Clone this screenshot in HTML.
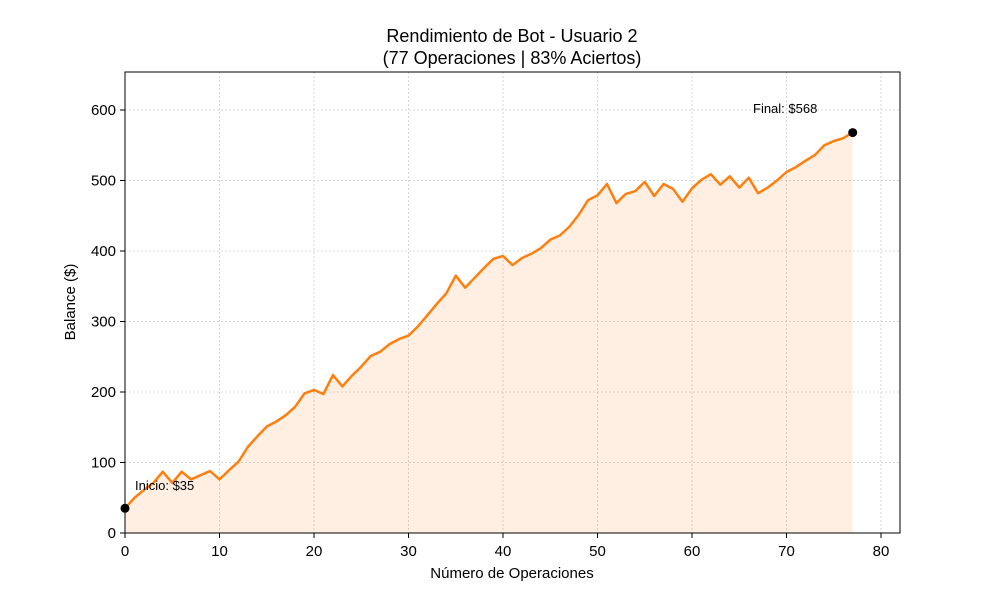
<!DOCTYPE html>
<html><head><meta charset="utf-8"><style>
html,body{margin:0;padding:0;background:#fff;}
svg{display:block;font-family:"Liberation Sans",sans-serif;}
</style></head><body>
<svg id="s" width="1000" height="600" viewBox="0 0 1000 600" xmlns="http://www.w3.org/2000/svg">
<rect width="1000" height="600" fill="#fff"/>
<g id="grid" stroke="#cccccc" stroke-width="0.8" stroke-dasharray="2,2"></g>
<path id="area" fill="#ff7f0e" fill-opacity="0.12"/>
<polyline id="line" fill="none" stroke="#ff7f0e" stroke-width="2.5" stroke-linejoin="round"/>
<rect x="125" y="72" width="775" height="461" fill="none" stroke="#000" stroke-width="1"/>
<g id="ticks" stroke="#000" stroke-width="1"></g>
<g id="labels" font-size="15" fill="#000"></g>
<circle cx="125" cy="508.3" r="4.5" fill="#000"/>
<circle cx="852.7" cy="132.6" r="4.5" fill="#000"/>
<text x="135" y="490" font-size="13" fill="#000">Inicio: $35</text>
<text x="753" y="113" font-size="13" fill="#000">Final: $568</text>
<text x="512" y="42" font-size="18" text-anchor="middle">Rendimiento de Bot - Usuario 2</text>
<text x="512" y="64" font-size="18" text-anchor="middle">(77 Operaciones | 83% Aciertos)</text>
<text x="512" y="578" font-size="15" text-anchor="middle">Número de Operaciones</text>
<text x="75" y="302" font-size="15" text-anchor="middle" transform="rotate(-90 75 302)">Balance ($)</text>
</svg>
<script>
var d=[35,50,61,71,87,71,87,76,82,88,76,89,101,122,137,151,158,167,179,198,203,197,224,208,223,236,251,257,268,275,280,293,309,325,340,365,348,362,376,389,393,380,390,396,404,416,422,434,451,472,479,495,468,481,485,498,478,495,488,470,489,501,509,494,506,490,504,482,490,500,512,519,528,536,550,556,560,568];
function X(i){return 125+i*9.45;}function Y(v){return 533-v*0.705;}
var pts=d.map(function(v,i){return X(i).toFixed(1)+","+Y(v).toFixed(1);});
document.getElementById('line').setAttribute('points',pts.join(' '));
document.getElementById('area').setAttribute('d','M125,533 L'+pts.join(' L')+' L'+X(77).toFixed(1)+',533 Z');
var ns='http://www.w3.org/2000/svg',g=document.getElementById('grid'),t=document.getElementById('ticks'),l=document.getElementById('labels');
function el(p,n,a,tx){var e=document.createElementNS(ns,n);for(var k in a)e.setAttribute(k,a[k]);if(tx!=null)e.textContent=tx;p.appendChild(e);}
for(var i=0;i<=80;i+=10){var x=X(i);el(g,'line',{x1:x,x2:x,y1:72,y2:533});el(t,'line',{x1:x,x2:x,y1:533,y2:538});el(l,'text',{x:x,y:556,'text-anchor':'middle'},i);}
for(var v=0;v<=600;v+=100){var y=Y(v);el(g,'line',{x1:125,x2:900,y1:y,y2:y});el(t,'line',{x1:120,x2:125,y1:y,y2:y});el(l,'text',{x:116,y:y+5,'text-anchor':'end'},v);}
</script>
</body></html>
